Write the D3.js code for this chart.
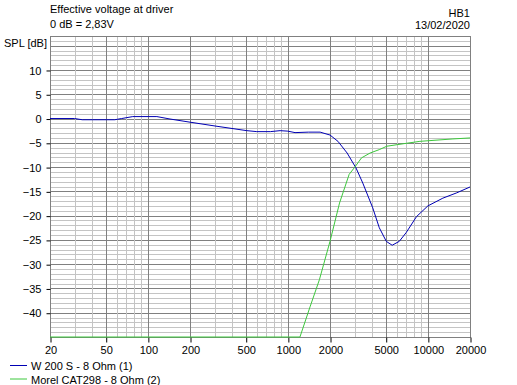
<!DOCTYPE html>
<html>
<head>
<meta charset="utf-8">
<script src="https://cdn.jsdelivr.net/npm/d3@7"></script>
<style>
  body { margin: 0; background: #ffffff; }
  svg text { font-family: "Liberation Sans", Arial, sans-serif; font-size: 11px; fill: #000; }
</style>
</head>
<body>
<svg id="chart" width="517" height="385"></svg>
<script>
"use strict";

// frequency response (Hz, dB)
const wooferFreq = [20, 30, 34, 58, 65, 78, 116, 144, 200, 312, 510, 600, 750, 880, 1000, 1125, 1400, 1700, 2000, 2280, 2650, 3070, 3430, 4040, 4500, 5050, 5560, 6250, 7000, 8300, 10000, 12800, 16100, 20000];
const wooferDb = [0, 0, -0.25, -0.25, 0, 0.4, 0.4, -0.1, -0.75, -1.6, -2.5, -2.7, -2.7, -2.5, -2.6, -2.9, -2.8, -2.8, -3.4, -4.7, -7.1, -10.2, -13.3, -18.4, -22.5, -25.3, -26.1, -25.3, -23.5, -20.2, -18.0, -16.4, -15.3, -14.1];

const tweeterFreq = [20, 1220, 1440, 1680, 2000, 2340, 2740, 3010, 3360, 3870, 4500, 5100, 6660, 8770, 15100, 20000];
const tweeterDb = [-45, -45, -38.8, -33.2, -25.3, -17.4, -11.5, -10.0, -8.1, -7.1, -6.4, -5.7, -5.2, -4.7, -4.2, -4.0];

const seriesNames = ["W 200 S - 8 Ohm (1)", "Morel CAT298 - 8 Ohm (2)"];
const seriesColors = ["#0000b4", "#3cc83c"];

const xTicks = [20, 50, 100, 200, 500, 1000, 2000, 5000, 10000, 20000];
const yTicks = [10, 5, 0, -5, -10, -15, -20, -25, -30, -35, -40];

const svg = d3.select("#chart");

const plotLeft = 50, plotRight = 470, plotTop = 36, plotBottom = 337;

const x = d3.scaleLog().domain([20, 20000]).range([plotLeft, plotRight]);
const y = d3.scaleLinear().domain([-45, 17]).range([plotBottom, plotTop]);

const px = v => Math.round(v) + 0.5;

// grid
const grid = svg.append("g").attr("shape-rendering", "crispEdges");

const minorFreqs = [];
for (let decade = 10; decade <= 10000; decade *= 10) {
    for (let m = 1; m <= 9; m++) {
        const f = m * decade;
        if (f > 20 && f < 20000 && !xTicks.includes(f)) minorFreqs.push(f);
    }
}

for (let db = -44; db < 17; db++) {
    grid.append("line")
        .attr("x1", plotLeft).attr("x2", plotRight)
        .attr("y1", px(y(db))).attr("y2", px(y(db)))
        .attr("stroke", db % 5 === 0 ? "#808080" : "#c4c4c4");
}

grid.selectAll(".vminor")
    .data(minorFreqs)
    .join("line")
    .attr("x1", d => px(x(d))).attr("x2", d => px(x(d)))
    .attr("y1", plotTop).attr("y2", plotBottom)
    .attr("stroke", "#c4c4c4");

grid.selectAll(".vmajor")
    .data(xTicks)
    .join("line")
    .attr("x1", d => px(x(d))).attr("x2", d => px(x(d)))
    .attr("y1", plotTop).attr("y2", plotBottom)
    .attr("stroke", "#808080");

// frame
grid.append("rect")
    .attr("x", plotLeft + 0.5).attr("y", plotTop + 0.5)
    .attr("width", plotRight - plotLeft).attr("height", plotBottom - plotTop)
    .attr("fill", "none").attr("stroke", "#808080");

// axes
const yAxis = d3.axisLeft(y).tickValues(yTicks).tickSize(4).tickPadding(5).tickFormat(d3.format("d"));
svg.append("g")
    .attr("transform", `translate(${plotLeft + 0.5},0.5)`)
    .call(yAxis)
    .call(g => g.select(".domain").remove())
    .call(g => g.selectAll("text").style("font-size", "11px").attr("font-family", null))
    .call(g => g.selectAll("line").attr("stroke", "#000"));

const xAxis = d3.axisBottom(x).tickValues(xTicks).tickSize(5).tickPadding(4).tickFormat(d3.format("d"));
svg.append("g")
    .attr("transform", `translate(0.5,${plotBottom + 0.5})`)
    .call(xAxis)
    .call(g => g.select(".domain").remove())
    .call(g => g.selectAll("text").style("font-size", "11px").attr("font-family", null))
    .call(g => g.selectAll("line").attr("stroke", "#000"));

// curves
const line = d3.line()
    .x(d => x(d[0]))
    .y(d => y(d[1]));

const series = [
    d3.zip(wooferFreq, wooferDb),
    d3.zip(tweeterFreq, tweeterDb),
];

svg.selectAll(".curve")
    .data(series)
    .join("path")
    .attr("class", "curve")
    .attr("d", line)
    .attr("fill", "none")
    .attr("stroke", (d, i) => seriesColors[i])
    .attr("stroke-width", 1);

// titles
svg.append("text").attr("x", 50).attr("y", 12.5).text("Effective voltage at driver");
svg.append("text").attr("x", 50).attr("y", 28).text("0 dB = 2,83V");
svg.append("text").attr("x", 4).attr("y", 46.5).text("SPL [dB]");
svg.append("text").attr("x", 470).attr("y", 17).attr("text-anchor", "end").text("HB1");
svg.append("text").attr("x", 470).attr("y", 29).attr("text-anchor", "end").text("13/02/2020");

// legend
const legend = svg.selectAll(".legend")
    .data(seriesNames)
    .join("g")
    .attr("transform", (d, i) => `translate(10,${365.5 + i * 13.5})`);
legend.append("line")
    .attr("x1", 0).attr("x2", 17)
    .attr("stroke", (d, i) => seriesColors[i]);
legend.append("text")
    .attr("x", 21).attr("y", 4.5)
    .text(d => d);
</script>
</body>
</html>
